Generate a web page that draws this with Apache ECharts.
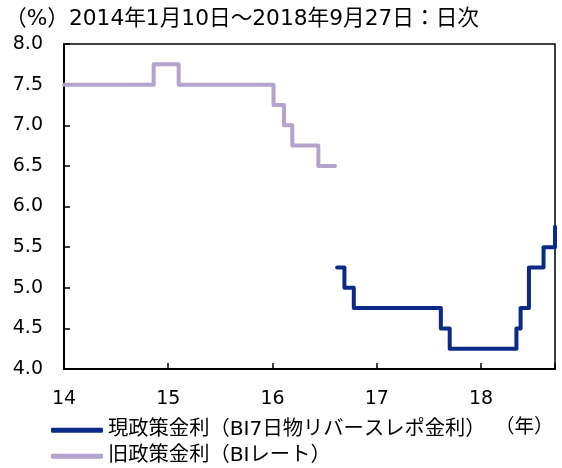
<!DOCTYPE html>
<html>
<head>
<meta charset="utf-8">
<script src="https://cdn.jsdelivr.net/npm/echarts@6/dist/echarts.min.js"></script>
<style>
html,body{margin:0;padding:0;background:#fff;}
#c{width:562px;height:468px;}
</style>
</head>
<body>
<div id="c"></div>
<script>
// Old policy rate (BI rate): change points in decimal years
var oldDates = [14.0, 14.86, 15.10, 16.01, 16.11, 16.19, 16.44, 16.60];
var oldRates = [7.50, 7.75, 7.50, 7.25, 7.00, 6.75, 6.50, 6.50];
// Current policy rate (BI 7-day reverse repo)
var newDates = [16.62, 16.69, 16.78, 17.615, 17.70, 18.34, 18.38, 18.46, 18.60, 18.71];
var newRates = [5.25, 5.00, 4.75, 4.50, 4.25, 4.50, 4.75, 5.25, 5.50, 5.75];
var yTicks = ['4.0','4.5','5.0','5.5','6.0','6.5','7.0','7.5','8.0'];
var xTicks = ['14','15','16','17','18'];
var newName = '現政策金利（BI7日物リバースレポ金利）';
var oldName = '旧政策金利（BIレート）';

var FONT = '"DejaVu Sans", Verdana, "Noto Sans CJK JP", sans-serif';
function pairs(xs, ys){ return xs.map(function(x,i){ return [x, ys[i]]; }); }

var legendBase = {
  left: 51, itemWidth: 52, itemHeight: 5, icon: 'roundRect', padding: 0,
  textStyle: {fontFamily: FONT, fontSize: 20.3, color: '#000'}
};

var chart = echarts.init(document.getElementById('c'), null, {renderer:'canvas'});
chart.setOption({
  animation: false,
  backgroundColor: '#fff',
  title: [
    {text: '（%）2014年1月10日～2018年9月27日：日次', left: 0, top: 4,
     textStyle: {fontFamily: FONT, fontSize: 21.7, fontWeight: 'normal', color: '#000'}},
    {text: '（年）', left: 490, top: 413,
     textStyle: {fontFamily: FONT, fontSize: 19.5, fontWeight: 'normal', color: '#000'}}
  ],
  grid: {left: 64, top: 44, right: 7, bottom: 99, show: true, borderColor: '#000', borderWidth: 1.5, containLabel: false},
  legend: [
    Object.assign({}, legendBase, {top: 420, data: [newName]}),
    Object.assign({}, legendBase, {top: 446, data: [oldName]})
  ],
  xAxis: {
    type: 'value', min: 14, max: 18.71, interval: 1,
    axisLine: {lineStyle: {color: '#000', width: 2}},
    axisTick: {inside: true, length: 6, lineStyle: {color: '#000', width: 1.5}},
    splitLine: {show: false},
    axisLabel: {fontFamily: FONT, fontSize: 19, color: '#000', margin: 21,
      formatter: function(v){ var s = String(Math.round(v)); return (Math.abs(v - Math.round(v)) < 1e-6 && xTicks.indexOf(s) >= 0) ? s : ''; }}
  },
  yAxis: {
    type: 'value', min: 4, max: 8, interval: 0.5,
    axisLine: {show: true, lineStyle: {color: '#000', width: 2}},
    axisTick: {show: true, inside: true, length: 6, lineStyle: {color: '#000', width: 1.5}},
    splitLine: {show: false},
    axisLabel: {fontFamily: FONT, fontSize: 19, color: '#000', margin: 21,
      formatter: function(v){ return yTicks[Math.round((v - 4) / 0.5)]; }}
  },
  series: [
    {name: newName, type: 'line', step: 'end', showSymbol: false,
     data: pairs(newDates, newRates), color: '#0a2a85',
     lineStyle: {width: 4, color: '#0a2a85', cap: 'round', join: 'round'}, z: 3},
    {name: oldName, type: 'line', step: 'end', showSymbol: false,
     data: pairs(oldDates, oldRates), color: '#b3a3cd',
     lineStyle: {width: 4, color: '#b3a3cd', cap: 'round', join: 'round'}, z: 2}
  ]
});
</script>
</body>
</html>
